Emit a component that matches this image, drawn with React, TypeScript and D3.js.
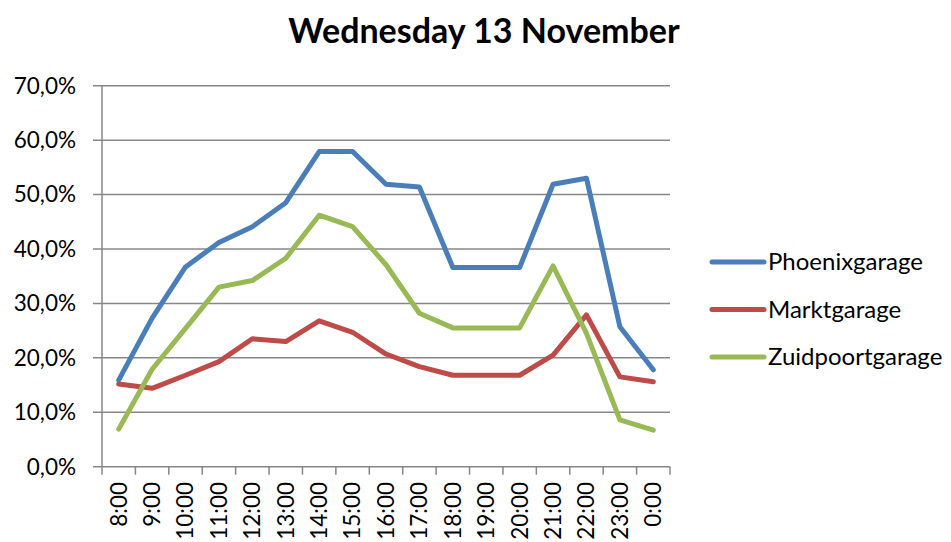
import React, { useEffect, useRef } from "react";
import * as d3 from "d3";

// hours on the x axis
const hours = ["8:00", "9:00", "10:00", "11:00", "12:00", "13:00", "14:00", "15:00", "16:00",
  "17:00", "18:00", "19:00", "20:00", "21:00", "22:00", "23:00", "0:00"];

// occupancy in percent
const phoenix = [15.9, 27.3, 36.7, 41.2, 44.1, 48.5, 57.9, 57.9, 51.9, 51.4, 36.6, 36.6, 36.6, 51.9, 53.0, 25.7, 17.8];
const markt = [15.2, 14.4, 16.8, 19.3, 23.5, 23.0, 26.8, 24.7, 20.7, 18.4, 16.8, 16.8, 16.8, 20.5, 27.9, 16.5, 15.6];
const zuidpoort = [6.9, 17.9, 25.4, 33.0, 34.2, 38.3, 46.2, 44.1, 37.1, 28.2, 25.5, 25.5, 25.5, 36.9, 24.5, 8.6, 6.7];

const seriesNames = ["Phoenixgarage", "Marktgarage", "Zuidpoortgarage"];
const colors = ["#4a7ebb", "#be4b48", "#98b954"];
const yTicks = [0, 10, 20, 30, 40, 50, 60, 70];

const font = "Lato, 'Open Sans', sans-serif";

export default function App() {
  const ref = useRef<SVGSVGElement>(null);

  useEffect(() => {
    const svg = d3.select(ref.current);
    svg.selectAll("*").remove();

    const left = 102, right = 670, top = 85.7, bottom = 466.7;

    const x = d3.scaleBand().domain(hours).range([left, right]);
    const y = d3.scaleLinear().domain([0, 70]).range([bottom, top]);

    // title
    svg.append("text")
      .attr("x", 484)
      .attr("y", 43)
      .attr("text-anchor", "middle")
      .style("font-family", font)
      .style("font-size", "34px")
      .style("font-weight", "bold")
      .text("Wednesday 13 November");

    // gridlines
    svg.append("g")
      .selectAll("line")
      .data(yTicks)
      .enter()
      .append("line")
      .attr("x1", left - 9)
      .attr("x2", right)
      .attr("y1", d => y(d))
      .attr("y2", d => y(d))
      .attr("stroke", "#878787")
      .attr("stroke-width", 1.5);

    // y labels
    svg.append("g")
      .selectAll("text")
      .data(yTicks)
      .enter()
      .append("text")
      .attr("x", 76)
      .attr("y", d => y(d))
      .attr("dy", "0.35em")
      .attr("text-anchor", "end")
      .style("font-family", font)
      .style("font-size", "22.5px")
      .text(d => d3.format(".1f")(d).replace(".", ",") + "%");

    // y axis line
    svg.append("line")
      .attr("x1", left).attr("x2", left)
      .attr("y1", top).attr("y2", bottom)
      .attr("stroke", "#878787")
      .attr("stroke-width", 1.5);

    // x tick marks
    const edges = hours.map(h => x(h) as number).concat([right]);
    svg.append("g")
      .selectAll("line")
      .data(edges)
      .enter()
      .append("line")
      .attr("x1", d => d).attr("x2", d => d)
      .attr("y1", bottom).attr("y2", bottom + 8)
      .attr("stroke", "#878787")
      .attr("stroke-width", 1.5);

    // x labels
    svg.append("g")
      .selectAll("text")
      .data(hours)
      .enter()
      .append("text")
      .attr("transform", d => "translate(" + ((x(d) as number) + x.bandwidth() / 2) + "," + 482 + ")rotate(-90)")
      .attr("dy", "0.35em")
      .attr("text-anchor", "end")
      .style("font-family", font)
      .style("font-size", "22.5px")
      .text(d => d);

    // lines
    const line = d3.line<number>()
      .x((d, i) => (x(hours[i]) as number) + x.bandwidth() / 2)
      .y(d => y(d));

    [phoenix, markt, zuidpoort].forEach((s, i) => {
      svg.append("path")
        .datum(s)
        .attr("d", line)
        .attr("fill", "none")
        .attr("stroke", colors[i])
        .attr("stroke-width", 5)
        .attr("stroke-linejoin", "round")
        .attr("stroke-linecap", "round");
    });

    // legend
    seriesNames.forEach((name, i) => {
      const ly = 262 + i * 47.5;
      svg.append("line")
        .attr("x1", 712).attr("x2", 764)
        .attr("y1", ly).attr("y2", ly)
        .attr("stroke", colors[i])
        .attr("stroke-width", 5)
        .attr("stroke-linecap", "round");
      svg.append("text")
        .attr("x", 768)
        .attr("y", ly)
        .attr("dy", "0.35em")
        .style("font-family", font)
        .style("font-size", "24px")
        .text(name);
    });
  }, []);

  return (
    <svg ref={ref} width={951} height={542} style={{ position: "absolute", left: 0, top: 0, background: "#fff" }}></svg>
  );
}
